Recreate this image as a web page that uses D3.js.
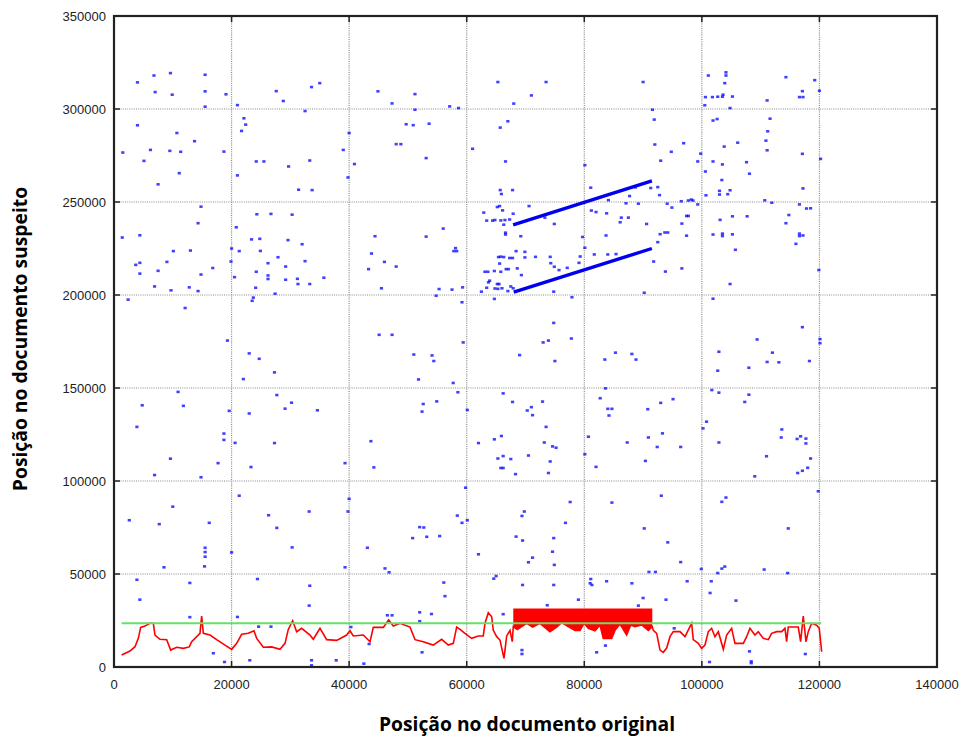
<!DOCTYPE html>
<html>
<head>
<meta charset="utf-8">
<script src="https://cdn.jsdelivr.net/npm/d3@7"></script>
<style>
  body { margin: 0; background: #fff; }
  svg { display: block; }
  .tick-label { font-family: "Liberation Sans", Arial, sans-serif; font-size: 13px; fill: #222; }
  .axis-title { font-family: "Open Sans", sans-serif; font-weight: bold; font-size: 19.3px; fill: #000; }
</style>
</head>
<body>
<svg id="chart" width="961" height="738"></svg>
<script>

// ===========================//
// DATA
// ===========================//

var xTicks = [0, 20000, 40000, 60000, 80000, 100000, 120000, 140000]
var yTicks = [0, 50000, 100000, 150000, 200000, 250000, 300000, 350000]

// red curve (position in original doc vs value)
var redX = [1300,2720,3570,4140,4535,5270,6120,6690,6970,7820,
  8960,9640,10660,11790,12810,13210,14630,14910,15200,16330,
  17460,18880,20020,20870,21720,22850,23810,24270,25400,26820,
  28240,29090,29650,30390,31070,31920,33340,33900,35040,36180,
  37880,39580,40140,40710,42410,43550,44110,45810,46720,47510,
  48650,50350,51200,52610,54310,55740,56870,57720,58290,58860,
  59700,60840,61970,62820,63110,63670,64250,64520,65100,65660,
  66340,66800,67360,67750,
  67920,68610,69350,70200,71220,72460,74160,75300,76150,77110,
  78420,79270,79950,80690,81820,82670,83230,84660,85220,86070,
  87210,87890,88620,89760,90890,91570,
  91740,92310,92880,93440,94010,94580,95140,96280,97130,98260,
  98540,99390,99960,100530,101100,101660,102230,102800,103650,104220,
  105070,105630,107050,107620,108180,109030,109600,110450,111300,111870,
  112720,113570,114140,114420,114700,116400,116800,117250,117710,118100,
  118680,119530,119970,120380]
var redY = [6450,8600,10900,15400,21300,22000,23500,23500,17200,14900,
  14700,9100,10600,10000,10800,13600,18100,27400,18100,17200,
  14700,11800,9500,12700,17600,18100,19500,15400,10600,10800,
  9500,12700,20200,24900,19000,20800,17200,14900,20800,14700,
  14300,17200,19500,16700,17200,13600,21300,21300,25300,22000,
  23500,21500,14700,13600,11800,14900,11800,12700,21500,20200,
  18100,15400,16700,16700,23500,29200,27000,19700,16300,14500,
  4650,16700,19700,13600,
  21700,20200,21700,23500,21400,23500,19000,21400,23900,22000,
  19700,19700,23500,20800,19400,22600,15400,15400,19700,23100,
  17200,22600,21700,22600,19700,21700,
  19700,18100,9100,7900,10200,16300,19000,19000,16300,23500,
  14700,12700,10000,11800,19000,20800,16300,19000,9500,17200,
  20800,12700,12700,16300,20800,17200,19000,15400,14700,18100,
  19000,19000,20800,13600,21500,21500,13600,27400,13600,19000,
  23500,22500,20800,8200]

// dense red block
var bandStart = 67920
var bandEnd = 91570
var bandTop = 31500

// green threshold
var greenLevel = 23500
var greenFrom = 1300
var greenTo = 120300

// the two dense diagonal runs of blue points
var diagX0 = [67900, 68000]
var diagY0 = [237700, 201600]
var diagX1 = [91500, 91500]
var diagY1 = [261400, 225000]

// scattered blue points [x, y]
var blueDots = [
  [3990,314300],[6800,318000],[9600,319300],[15500,318400],[7000,309100],[9900,307700],[15500,309500],[19050,307900],[15500,301250],[21000,302100],
  [27600,309600],[28800,304300],[33600,311800],[35000,313900],[32500,298900],[44900,309500],[47300,303000],[3990,291250],[10700,287100],[13700,282700],
  [1500,276600],[6200,278000],[9500,277500],[11350,277000],[5100,272100],[18700,277100],[11100,265500],[7500,259500],[22100,295000],[22400,291600],
  [21700,288200],[24200,271800],[25500,271800],[29700,269100],[33300,272300],[21000,264300],[31400,256600],[33700,256400],[40000,287100],[39000,278000],
  [40900,270400],[39800,263200],[48000,281100],
  [14800,247500],[14300,238600],[1400,230900],[4400,232100],[10100,223600],[13000,223900],[3700,216200],[4400,217300],[9000,217800],[16800,214500],
  [4400,211500],[7500,213000],[14800,211000],[6900,204600],[9700,202500],[12800,204100],[14300,202100],[19900,218000],[20000,225000],[20500,209600],
  [20800,236400],[24300,243400],[26700,243600],[30300,243200],[23400,229900],[24800,230200],[29600,229500],[32000,227300],[21300,223600],[24900,223700],
  [27900,220300],[26200,217100],[29200,215300],[32500,218200],[24200,212500],[26200,210500],[26200,208600],[29200,208200],[31200,208700],[35700,209300],
  [31300,205900],[33300,205900],[24100,203900],[27400,200700],[44400,231600],[43800,222300],[46000,217800],[48000,215300],[43300,213900],[45500,203600],
  [2400,197500],[12100,193000],[23500,196900],[23700,198600],[19300,175500],[45100,178600],[47300,178600],
  [51200,308000],[51200,299600],[57100,301400],[58600,300500],[65300,314500],[73500,314500],[71000,307300],[68000,302900],[90000,314500],[91600,299600],
  [91900,294300],[49700,291800],[50900,291300],[53600,292100],[65700,290000],[67000,293400],[48800,281100],[61000,278600],[53100,273600],[66600,271800],
  [92000,280900],[96900,281600],[94800,277000],[93000,272200],[80100,269800],[65700,256400],[65900,254300],[67800,256400],[81100,257700],[92500,258000],
  [91300,257500],[92800,253700],[88700,257900],[87700,253200],[84100,251000],[96500,250400],[94100,249100],[89200,249100],[87100,249300],[94900,247000],
  [97400,242500],[81200,245400],[82000,244600],[83800,243900],[86300,241600],[87500,241600],[86100,239100],[90600,238200],[96600,238400],[83700,232000],
  [92900,232700],[93700,233600],[94200,233600],[92500,228400],[97400,231900],[79700,231200],[80100,225400],[79300,220700],[81700,221800],[84000,221800],
  [85400,222000],[87600,221100],[91800,218000],[93800,212600],[96600,214300],[90200,201200],[79100,217300],
  [62900,244300],[63400,240000],[64400,240000],[64800,240300],[65800,240100],[66500,240300],[67300,240600],[65200,247300],[65600,247800],[66100,245500],
  [67900,243700],[66300,237800],[66600,233500],[66600,232500],[70600,247800],[69200,231600],[74900,238200],[73300,241600],[56000,235700],[53100,231400],
  [57800,223600],[58100,225200],[58300,223600],[65400,220400],[65800,220600],[66300,220400],[67300,219900],[67800,219900],[68400,223600],[69900,223200],
  [69900,220200],[71700,220500],[74200,220500],[65600,216900],[66700,213900],[67100,213900],[65800,212500],[63100,212500],[63600,212500],[64700,212900],
  [68600,214300],[69300,210700],[74300,217100],[74900,215200],[75700,213400],[77100,214600],[63900,207700],[63700,206800],[65200,205900],[65500,205900],
  [63400,203900],[62500,201800],[64800,203500],[65300,203300],[66000,203600],[67000,202100],[67500,204600],[67900,203600],[64700,197900],[59300,204100],
  [57500,202900],[55300,203200],[54800,199600],[59200,196100],[74800,201800],[77900,198800],[74800,185000],[77800,176600],[73000,174500],[73900,175500],
  [59400,174500],
  [101100,318000],[104100,319700],[104100,318000],[103900,313900],[114300,317100],[119200,315500],[120000,309800],[117100,309600],[116600,306400],[117200,306400],
  [100600,306400],[101800,306400],[102700,306600],[103500,306600],[103600,307700],[105200,306700],[100500,302000],[104800,300500],[111100,304600],[101900,293800],
  [102600,294600],[111600,294800],[111200,288000],[110900,283000],[106100,281900],[103800,279800],[111100,277800],[117100,275900],[120200,273200],[99800,276000],
  [99300,271800],[101900,271800],[103500,270200],[107600,271400],[100600,266400],[108100,265200],[103400,261800],[117200,257300],[103000,256000],[104800,256300],
  [103000,254000],[104400,254200],[100700,253600],[98200,251300],[97700,250800],[98500,250800],[99300,248700],[110700,250900],[111900,249600],[116600,248700],
  [117800,246500],[118500,246600],[97700,242500],[105200,242300],[107700,242300],[103100,240400],[114800,243000],[114300,238600],[101900,232500],[103500,233000],
  [103500,231700],[105200,232600],[116600,233000],[116600,231700],[117200,232000],[116000,227500],[105700,224300],[119900,213400],[104800,205900],[101900,198000],
  [117100,182700],[109400,176100],[120100,176300],[120100,174100],
  [23000,168600],[24700,165700],[27300,158400],[22000,154800],[10900,147900],[4800,140700],[11800,140400],[27700,146200],[30200,142100],[29100,138900],
  [34600,138000],[23000,136300],[19600,137700],[3900,129100],[18700,125500],[18700,122100],[20600,120500],[27300,120400],[43700,121400],[39300,109600],
  [44200,107300],[9600,112000],[17700,109600],[6900,103200],[14800,102000],[23300,107500],[21300,92100],[10000,86200],[2600,78900],[7700,76800],
  [16200,77500],[26300,81600],[33200,83600],[27700,74800],[40000,90400],[39800,83600],[30300,64300],[43100,64100],[15500,64100],[15500,61800],
  [15500,59300],[20000,61600],[8500,53600],[15400,54100],[39300,53600],[46100,53000],[46800,50900],[3900,46900],[12900,45200],[24400,47300],
  [33300,43700],[4400,36200],[33200,33000],[46500,27800],[47300,27800],[12900,26800],[21000,26900],
  [51000,168000],[54100,167500],[54400,164500],[51800,154600],[57700,152700],[69000,167700],[75000,164500],[83500,165300],[85300,169000],[88100,168300],
  [88800,165300],[102900,169500],[102700,159300],[108000,160900],[111100,164000],[112000,169000],[113100,163800],[118300,164500],[58500,147700],[60100,138200],
  [52600,141400],[52400,137300],[54900,142800],[66200,147100],[67800,142500],[70300,137900],[71000,139700],[71200,135400],[72900,142700],[73500,129100],
  [62000,120400],[64700,122400],[65900,124200],[65300,112100],[66200,113400],[67500,111800],[65800,107000],[66200,107000],[68300,103700],[70500,113700],
  [73200,120700],[74600,118600],[75200,117900],[74200,110500],[73900,104300],[80100,114400],[82000,107600],[80700,123800],[83600,149800],[82700,144500],
  [84000,138800],[84700,138800],[84200,135200],[90800,138600],[93000,142000],[95100,144000],[87300,120700],[90900,123400],[93300,125600],[92400,118300],
  [96400,118300],[90400,110800],[101700,148900],[102900,147500],[107300,142500],[108000,146400],[100800,131900],[100200,128300],[102900,120700],[113600,127700],
  [113500,123400],[116200,122600],[116800,124000],[117700,122800],[117700,120200],[118500,112100],[118000,107100],[117100,105500],[116300,104300],[111000,113300],
  [109000,102500],[59800,96400],[60100,78900],[58400,81400],[59200,77500],[52000,75200],[52700,75000],[53200,70000],[55400,70400],[50800,69300],
  [62000,60600],[69800,83600],[69400,81200],[68400,70100],[69500,68000],[74800,69300],[74600,62000],[70500,56300],[71200,58800],[74900,54900],
  [76800,77500],[77600,88700],[84700,88400],[93100,92100],[90200,74500],[94200,67000],[96400,56400],[91000,51100],[92100,51100],[99900,52700],
  [103400,88800],[104100,91100],[114700,74500],[102700,50500],[103400,52900],[103900,54000],[110600,52400],[114600,50500],[119800,94500],[56100,45400],
  [56300,38100],[52000,29400],[54000,28500],[64600,47500],[65000,48900],[69500,44100],[74800,44100],[81100,47300],[81000,45000],[81300,44100],
  [83800,46100],[88100,45000],[97500,46100],[90000,37100],[93900,36200],[101600,46100],[101400,39800],[105800,35700],[79000,36200],[73700,33200],
  [89200,33000],[66200,28400],
  [16900,7400],[18800,2700],[23100,3600],[24600,21700],[26700,21700],[33600,3600],[33600,900],[37800,3600],[40300,21500],[42500,1800],
  [43400,12400],[52000,24600],[52400,7900],[69400,9100],[69400,7000],[82100,7900],[83600,11500],[95300,20800],[108100,8400],[101300,2700],
  [108400,3000],[108400,2100],[117600,7000]
]


// ===========================//
// SCALES
// ===========================//

var svg = d3.select("#chart")

var x = d3.scaleLinear().domain([0, 140000]).range([114, 937])
var y = d3.scaleLinear().domain([0, 350000]).range([667, 16])

svg.append("rect").attr("width", 961).attr("height", 738).attr("fill", "#fff")


// ===========================//
// GRID
// ===========================//

svg.selectAll(".vgrid")
  .data(xTicks.slice(1, -1))
  .enter()
  .append("line")
    .attr("x1", function(d){ return x(d) })
    .attr("x2", function(d){ return x(d) })
    .attr("y1", y(0))
    .attr("y2", y(350000))
    .attr("stroke", "#8a8a8a")
    .attr("stroke-width", 1.2)
    .attr("stroke-dasharray", "1,1.2")

svg.selectAll(".hgrid")
  .data(yTicks.slice(1, -1))
  .enter()
  .append("line")
    .attr("y1", function(d){ return y(d) })
    .attr("y2", function(d){ return y(d) })
    .attr("x1", x(0))
    .attr("x2", x(140000))
    .attr("stroke", "#8a8a8a")
    .attr("stroke-width", 1.2)
    .attr("stroke-dasharray", "1,1.2")


// ===========================//
// BLUE POINTS
// ===========================//

svg.selectAll(".dot")
  .data(blueDots)
  .enter()
  .append("rect")
    .attr("x", function(d){ return x(d[0]) - 1.6 })
    .attr("y", function(d){ return y(d[1]) - 1.3 })
    .attr("width", 3.2)
    .attr("height", 2.6)
    .attr("fill", "#0000ff")
    .attr("fill-opacity", 0.75)

svg.selectAll(".diag")
  .data(diagX0)
  .enter()
  .append("line")
    .attr("x1", function(d){ return x(d) })
    .attr("y1", function(d, i){ return y(diagY0[i]) })
    .attr("x2", function(d, i){ return x(diagX1[i]) })
    .attr("y2", function(d, i){ return y(diagY1[i]) })
    .attr("stroke", "#0000ee")
    .attr("stroke-width", 3.4)


// ===========================//
// RED CURVE + BAND
// ===========================//

var redPts = redX.map(function(d, i){ return [d, redY[i]] })
var bandPts = redPts.filter(function(d){ return d[0] >= bandStart && d[0] <= bandEnd })

svg.append("path")
  .datum(bandPts)
  .attr("d", d3.area()
    .x(function(d){ return x(d[0]) })
    .y0(function(d){ return y(d[1]) })
    .y1(y(bandTop)))
  .attr("fill", "#ff0000")

svg.append("path")
  .datum(redPts)
  .attr("d", d3.line()
    .x(function(d){ return x(d[0]) })
    .y(function(d){ return y(d[1]) }))
  .attr("fill", "none")
  .attr("stroke", "#ff0000")
  .attr("stroke-width", 1.6)

// green threshold line
svg.append("line")
  .attr("x1", x(greenFrom))
  .attr("x2", x(greenTo))
  .attr("y1", y(greenLevel))
  .attr("y2", y(greenLevel))
  .attr("stroke", "#66e066")
  .attr("stroke-width", 2)


// ===========================//
// FRAME, TICKS, LABELS
// ===========================//

svg.append("rect")
  .attr("x", x(0))
  .attr("y", y(350000))
  .attr("width", x(140000) - x(0))
  .attr("height", y(0) - y(350000))
  .attr("fill", "none")
  .attr("stroke", "#222")
  .attr("stroke-width", 2.2)

var tickLen = 6

xTicks.forEach(function(t){
  svg.append("line").attr("x1", x(t)).attr("x2", x(t))
    .attr("y1", y(0)).attr("y2", y(0) - tickLen).attr("stroke", "#222").attr("stroke-width", 1.5)
  svg.append("line").attr("x1", x(t)).attr("x2", x(t))
    .attr("y1", y(350000)).attr("y2", y(350000) + tickLen).attr("stroke", "#222").attr("stroke-width", 1.5)
  svg.append("text")
    .attr("class", "tick-label")
    .attr("x", x(t))
    .attr("y", 689)
    .attr("text-anchor", "middle")
    .text(t)
})

yTicks.forEach(function(t){
  svg.append("line").attr("y1", y(t)).attr("y2", y(t))
    .attr("x1", x(0)).attr("x2", x(0) + tickLen).attr("stroke", "#222").attr("stroke-width", 1.5)
  svg.append("line").attr("y1", y(t)).attr("y2", y(t))
    .attr("x1", x(140000)).attr("x2", x(140000) - tickLen).attr("stroke", "#222").attr("stroke-width", 1.5)
  svg.append("text")
    .attr("class", "tick-label")
    .attr("x", 106)
    .attr("y", y(t) + 5)
    .attr("text-anchor", "end")
    .text(t)
})

// axis titles
svg.append("text")
  .attr("class", "axis-title")
  .attr("x", 527)
  .attr("y", 731)
  .attr("text-anchor", "middle")
  .text("Posição no documento original")

svg.append("text")
  .attr("class", "axis-title")
  .attr("transform", "translate(27,339) rotate(-90)")
  .attr("text-anchor", "middle")
  .text("Posição no documento suspeito")

</script>
</body>
</html>
